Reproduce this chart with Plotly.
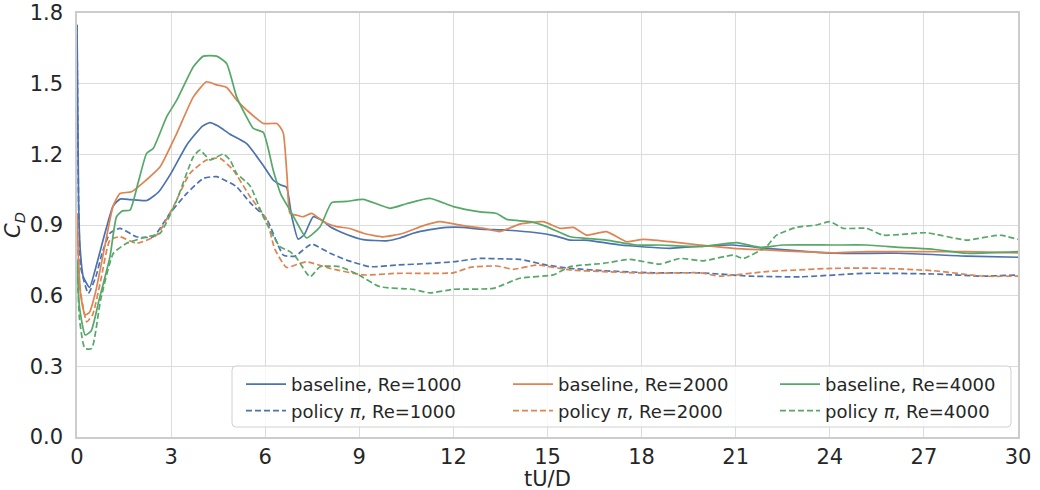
import plotly.graph_objects as go

# ---- data ----
t_b1000 = [0, 0.05, 0.1, 0.2, 0.4, 0.6, 0.9, 1.15, 1.37, 1.7, 2.22, 2.6, 3.0, 3.5, 4.0, 4.24, 4.5, 4.88,
           5.41, 5.9, 6.26, 6.5, 6.68, 6.84, 7.05, 7.25, 7.53, 7.8, 8.07, 8.6, 9.13, 9.87, 10.3, 10.72,
           11.25, 11.79, 12.3, 12.85, 13.59, 14.65, 15.2, 15.72, 16.3, 17.31, 18.9, 19.86, 20.9, 21.98,
           23.0, 24.1, 26.2, 28.36, 30.0]
cd_b1000 = [1.75, 1.0, 0.8, 0.68, 0.635, 0.72, 0.87, 0.98, 1.01, 1.008, 1.004, 1.04, 1.12, 1.24, 1.32, 1.335,
            1.32, 1.285, 1.245, 1.16, 1.09, 1.07, 1.06, 0.94, 0.84, 0.86, 0.935, 0.92, 0.893, 0.86, 0.838,
            0.833, 0.845, 0.865, 0.88, 0.89, 0.89, 0.882, 0.879, 0.867, 0.855, 0.836, 0.835, 0.815, 0.801,
            0.81, 0.815, 0.801, 0.79, 0.78, 0.78, 0.768, 0.763]

t_b2000 = [0, 0.05, 0.12, 0.26, 0.4, 0.6, 0.9, 1.15, 1.37, 1.74, 2.2, 2.65, 3.18, 3.71, 4.13, 4.45, 4.77,
           5.09, 5.41, 5.94, 6.37, 6.47, 6.58, 6.7, 6.79, 7.0, 7.2, 7.48, 7.7, 7.96, 8.28, 8.7, 9.13, 9.76,
           10.4, 11.0, 11.57, 12.0, 12.53, 13.0, 13.48, 14.12, 14.86, 15.4, 15.82, 16.25, 16.88, 17.52,
           18.05, 18.9, 19.86, 20.92, 21.98, 23.05, 24.1, 25.17, 26.23, 28.36, 30.0]
cd_b2000 = [0.95, 0.75, 0.6, 0.518, 0.53, 0.62, 0.82, 0.98, 1.034, 1.041, 1.09, 1.147, 1.289, 1.444, 1.508,
            1.495, 1.484, 1.43, 1.388, 1.331, 1.331, 1.317, 1.289, 1.1, 0.949, 0.942, 0.935, 0.949, 0.93,
            0.907, 0.893, 0.885, 0.865, 0.85, 0.865, 0.895, 0.914, 0.905, 0.893, 0.885, 0.872, 0.904, 0.914,
            0.886, 0.89, 0.857, 0.872, 0.829, 0.839, 0.829, 0.815, 0.801, 0.794, 0.787, 0.782, 0.787, 0.787,
            0.787, 0.782]

t_b4000 = [0, 0.08, 0.26, 0.45, 0.7, 1.05, 1.26, 1.45, 1.69, 1.95, 2.22, 2.43, 2.86, 3.18, 3.71, 4.03, 4.45,
           4.77, 5.09, 5.4, 5.62, 5.94, 6.26, 6.5, 6.79, 7.05, 7.32, 7.75, 8.12, 8.6, 9.13, 9.98, 10.5, 11.25,
           12.0, 12.85, 13.38, 13.7, 14.44, 14.97, 15.72, 16.25, 16.88, 17.84, 18.58, 19.86, 21.03, 21.77,
           22.52, 24.1, 25.17, 26.23, 27.3, 28.36, 30.0]
cd_b4000 = [0.75, 0.55, 0.433, 0.45, 0.58, 0.765, 0.935, 0.96, 0.963, 1.08, 1.204, 1.225, 1.36, 1.43, 1.572,
            1.617, 1.617, 1.586, 1.444, 1.36, 1.31, 1.293, 1.13, 1.03, 0.963, 0.9, 0.845, 0.893, 0.995, 1.0,
            1.009, 0.971, 0.99, 1.013, 0.978, 0.956, 0.949, 0.924, 0.914, 0.893, 0.85, 0.843, 0.836, 0.815,
            0.815, 0.808, 0.825, 0.805, 0.815, 0.815, 0.815, 0.805, 0.797, 0.78, 0.787]

t_p1000 = [0, 0.05, 0.12, 0.36, 0.6, 0.8, 1.05, 1.37, 1.9, 2.43, 2.96, 3.5, 4.03, 4.45, 4.88, 5.09, 5.52,
           6.05, 6.58, 6.95, 7.48, 8.07, 8.6, 9.34, 10.19, 11.25, 12.0, 12.85, 13.6, 14.12, 14.97, 15.72,
           16.78, 18.37, 19.86, 21.45, 23.05, 25.17, 27.3, 28.89, 30.0]
cd_p1000 = [1.75, 1.0, 0.72, 0.61, 0.68, 0.78, 0.865, 0.886, 0.85, 0.85, 0.949, 1.034, 1.098, 1.105, 1.079,
            1.062, 0.995, 0.925, 0.772, 0.768, 0.819, 0.78, 0.751, 0.723, 0.73, 0.737, 0.744, 0.758, 0.756,
            0.754, 0.73, 0.716, 0.706, 0.697, 0.697, 0.683, 0.68, 0.695, 0.692, 0.683, 0.688]

t_p2000 = [0, 0.08, 0.31, 0.5, 0.75, 1.05, 1.37, 1.9, 2.54, 3.07, 3.6, 4.13, 4.56, 4.98, 5.52, 6.05, 6.3,
           6.68, 7.1, 7.32, 8.07, 9.13, 10.19, 10.93, 12.0, 12.53, 13.38, 13.91, 14.65, 15.72, 16.78, 18.37,
           19.86, 20.5, 21.98, 24.1, 25.7, 27.3, 28.89, 30.0]
cd_p2000 = [0.95, 0.65, 0.489, 0.52, 0.66, 0.836, 0.85, 0.822, 0.857, 0.978, 1.119, 1.176, 1.183, 1.133,
            1.02, 0.921, 0.8, 0.72, 0.737, 0.744, 0.716, 0.688, 0.695, 0.695, 0.697, 0.72, 0.726, 0.712,
            0.73, 0.709, 0.702, 0.695, 0.697, 0.683, 0.702, 0.716, 0.716, 0.706, 0.683, 0.683]

t_p4000 = [0, 0.08, 0.25, 0.47, 0.75, 1.16, 1.58, 2.22, 2.65, 3.18, 3.71, 3.92, 4.24, 4.66, 4.88, 5.09,
           5.52, 5.94, 6.47, 6.79, 7.0, 7.43, 7.75, 8.38, 8.92, 9.66, 10.72, 11.25, 12.0, 13.27, 14.12,
           15.18, 15.72, 16.78, 17.63, 18.58, 19.22, 19.97, 20.92, 21.24, 21.98, 22.3, 22.94, 23.58, 24.0,
           24.43, 25.17, 25.7, 27.08, 28.36, 29.42, 30.0]
cd_p4000 = [0.75, 0.5, 0.376, 0.376, 0.58, 0.78, 0.822, 0.85, 0.865, 1.006, 1.19, 1.218, 1.176, 1.201,
            1.176, 1.119, 1.066, 0.935, 0.808, 0.787, 0.76, 0.68, 0.723, 0.723, 0.692, 0.638, 0.627, 0.612,
            0.627, 0.631, 0.674, 0.688, 0.723, 0.737, 0.754, 0.734, 0.758, 0.748, 0.772, 0.758, 0.808,
            0.857, 0.89, 0.9, 0.914, 0.886, 0.886, 0.857, 0.867, 0.836, 0.857, 0.839]

x_ticks = [0, 3, 6, 9, 12, 15, 18, 21, 24, 27, 30]
y_ticks = [0.0, 0.3, 0.6, 0.9, 1.2, 1.5, 1.8]
x_title = "tU/D"
y_title = "<i>C</i><sub><i>D</i></sub>"

BLUE, ORANGE, GREEN = "#4C72B0", "#DD8452", "#55A868"
DASH = "6px,3px"

series = [
    (t_b1000, cd_b1000, "baseline, Re=1000", BLUE, "solid", "legend"),
    (t_p1000, cd_p1000, "policy <i>π</i>, Re=1000", BLUE, DASH, "legend"),
    (t_b2000, cd_b2000, "baseline, Re=2000", ORANGE, "solid", "legend2"),
    (t_p2000, cd_p2000, "policy <i>π</i>, Re=2000", ORANGE, DASH, "legend2"),
    (t_b4000, cd_b4000, "baseline, Re=4000", GREEN, "solid", "legend3"),
    (t_p4000, cd_p4000, "policy <i>π</i>, Re=4000", GREEN, DASH, "legend3"),
]

fig = go.Figure()
for t, cd, name, col, dash, leg in series:
    fig.add_trace(go.Scatter(x=t, y=cd, mode="lines", name=name, legend=leg,
                             line=dict(color=col, width=1.7, dash=dash, shape="spline", smoothing=0.5)))

FONT = "DejaVu Sans"
TXT = "#262626"
W, H = 1040, 490
ML, MR, MT, MB = 77, 22, 13, 53
PW, PH = W - ML - MR, H - MT - MB


def px_to_paper_x(px):
    return (px - ML) / PW


def px_to_paper_y(py):
    return (H - MB - py) / PH


leg_common = dict(orientation="v", xanchor="left", yanchor="top", bgcolor="rgba(0,0,0,0)",
                  borderwidth=0, itemwidth=40, tracegroupgap=0,
                  font=dict(family=FONT, size=18, color=TXT))
leg_y = px_to_paper_y(366)
fig.update_layout(
    width=W, height=H,
    margin=dict(l=ML, r=MR, t=MT, b=MB, autoexpand=False),
    plot_bgcolor="white", paper_bgcolor="white",
    font=dict(family=FONT, size=21, color=TXT),
    showlegend=True,
    legend=dict(x=px_to_paper_x(241), y=leg_y, **leg_common),
    legend2=dict(x=px_to_paper_x(508), y=leg_y, **leg_common),
    legend3=dict(x=px_to_paper_x(775), y=leg_y, **leg_common),
)

# legend frame (rounded box behind the three legend columns)
x0, x1 = px_to_paper_x(232), px_to_paper_x(1011)
y0, y1 = px_to_paper_y(427), px_to_paper_y(366)
rx, ry = 4 / PW, 4 / PH
path = (f"M {x0+rx},{y0} L {x1-rx},{y0} Q {x1},{y0} {x1},{y0+ry} L {x1},{y1-ry} Q {x1},{y1} {x1-rx},{y1} "
        f"L {x0+rx},{y1} Q {x0},{y1} {x0},{y1-ry} L {x0},{y0+ry} Q {x0},{y0} {x0+rx},{y0} Z")
fig.add_shape(type="path", path=path, xref="paper", yref="paper", layer="above",
              fillcolor="rgba(255,255,255,0.8)", line=dict(color="#d0d0d0", width=1))

# x-axis title placed as text just below the tick labels
fig.add_annotation(text=x_title, xref="paper", yref="paper", x=0.5, y=px_to_paper_y(479),
                   xanchor="center", yanchor="middle", showarrow=False,
                   font=dict(family=FONT, size=21, color=TXT))

fig.update_xaxes(range=[0, 30], tickvals=x_ticks, ticktext=[str(v) for v in x_ticks],
                 automargin=False,
                 showgrid=True, gridcolor="#dcdcdc", gridwidth=1,
                 showline=True, linecolor="#cccccc", linewidth=1.5, mirror=True,
                 zeroline=False, ticks="", ticklen=0)
fig.update_yaxes(range=[0, 1.8], tickvals=y_ticks, ticktext=[f"{v:.1f}" for v in y_ticks],
                 automargin=False,
                 showgrid=True, gridcolor="#dcdcdc", gridwidth=1,
                 showline=True, linecolor="#cccccc", linewidth=1.5, mirror=True,
                 zeroline=False, ticks="outside", ticklen=8, tickcolor="rgba(0,0,0,0)",
                 title=dict(text=y_title, standoff=3, font=dict(size=21)))

fig.write_html("out.html")
